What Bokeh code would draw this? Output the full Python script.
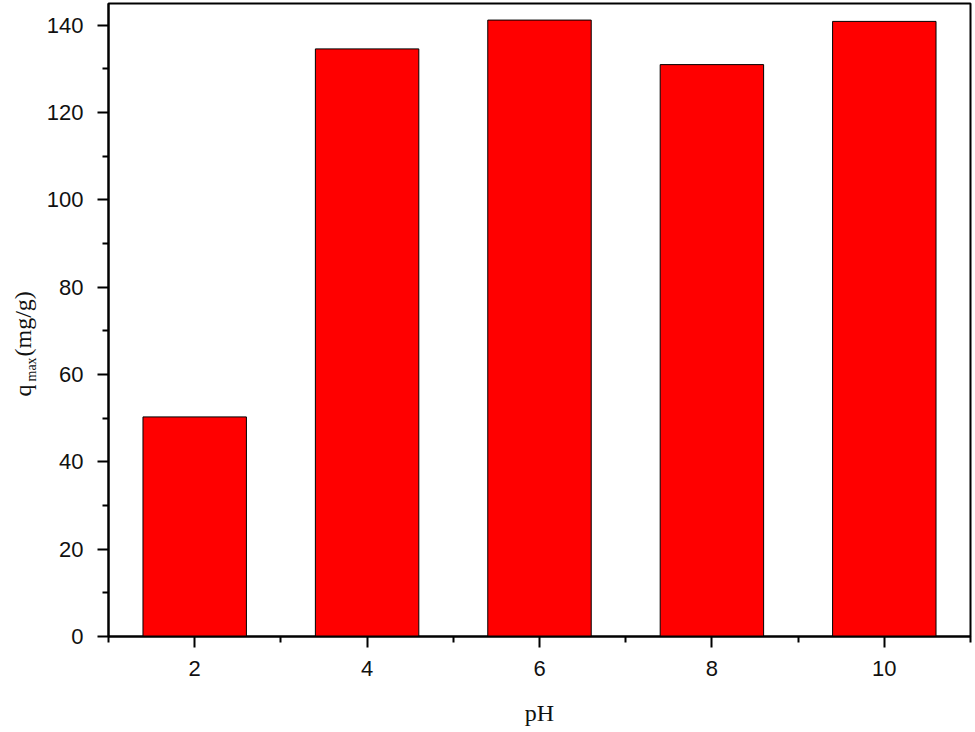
import math
from bokeh.plotting import figure
from bokeh.layouts import row
from bokeh.models import Range1d, FixedTicker, Label, ColumnDataSource
from bokeh.embed import file_html
from bokeh.resources import INLINE

# ---- data ----
ph = [2, 4, 6, 8, 10]
qmax = [50.3, 134.6, 141.2, 131.0, 140.9]
x_major_ticks = [2, 4, 6, 8, 10]
x_minor_ticks = [1, 3, 5, 7, 9, 11]
y_major_ticks = [0, 20, 40, 60, 80, 100, 120, 140]
y_minor_ticks = [10, 30, 50, 70, 90, 110, 130]
x_label = "pH"
y_label_main = "q"
y_label_sub = "max"
y_label_unit = "(mg/g)"

src = ColumnDataSource(dict(ph=ph, qmax=qmax))

W, H = 973, 730
LW = 40  # width of the narrow strip holding the rotated y label
BB = 94  # bottom border of the main plot

p = figure(width=W - LW, height=H, output_backend="svg", toolbar_location=None,
           x_range=Range1d(1, 11), y_range=Range1d(0, 145),
           min_border_left=108 - LW, min_border_right=3, min_border_top=3,
           min_border_bottom=BB, background_fill_color="white",
           border_fill_color="white")

p.vbar(x="ph", top="qmax", width=1.2, source=src,
       fill_color="#ff0000", line_color="black", line_width=1)

p.grid.visible = False
p.outline_line_color = "black"
p.outline_line_width = 2
p.outline_line_alpha = 1

p.xaxis.ticker = FixedTicker(ticks=x_major_ticks, minor_ticks=x_minor_ticks)
p.yaxis.ticker = FixedTicker(ticks=y_major_ticks, minor_ticks=y_minor_ticks)

for ax in (p.xaxis, p.yaxis):
    ax.axis_line_width = 2
    ax.axis_line_color = "black"
    ax.major_tick_line_width = 2
    ax.minor_tick_line_width = 2
    ax.major_tick_line_color = "black"
    ax.minor_tick_line_color = "black"
    ax.major_tick_in = 0
    ax.major_tick_out = 11
    ax.minor_tick_in = 0
    ax.minor_tick_out = 6
    ax.major_label_text_font = "Liberation Sans"
    ax.major_label_text_font_size = "22px"
    ax.major_label_text_color = "#111111"

p.xaxis.major_label_standoff = 13
p.yaxis.major_label_standoff = 14

p.xaxis.axis_label = x_label
p.xaxis.axis_label_text_font = "Liberation Serif"
p.xaxis.axis_label_text_font_style = "normal"
p.xaxis.axis_label_text_font_size = "24px"
p.xaxis.axis_label_text_color = "#111111"
p.xaxis.axis_label_standoff = 21

# narrow strip on the left with the rotated y label (with subscript);
# its frame is aligned with the main plot's frame by the row layout
lab = figure(width=LW, height=H, output_backend="svg", toolbar_location=None,
             x_axis_type=None, y_axis_type=None,
             x_range=Range1d(0, 1), y_range=Range1d(0, 1),
             min_border=0, min_border_left=0, min_border_right=0,
             min_border_top=0, min_border_bottom=0,
             background_fill_color="white", border_fill_color="white")
lab.outline_line_color = None
lab.grid.visible = False

FB = H - BB + 1  # screen row of the frame bottom
common = dict(x_units="screen", y_units="screen", angle=math.pi / 2,
              text_align="left", text_baseline="alphabetic",
              text_font="Liberation Serif", text_color="#111111")
lab.add_layout(Label(x=22, y=FB - 397, text=y_label_main, text_font_size="24px", **common))
lab.add_layout(Label(x=31, y=FB - 382, text=y_label_sub, text_font_size="14px", **common))
lab.add_layout(Label(x=22, y=FB - 357, text=y_label_unit, text_font_size="24px", **common))

layout = row(lab, p)
open("out.html", "w").write(file_html(layout, INLINE))
